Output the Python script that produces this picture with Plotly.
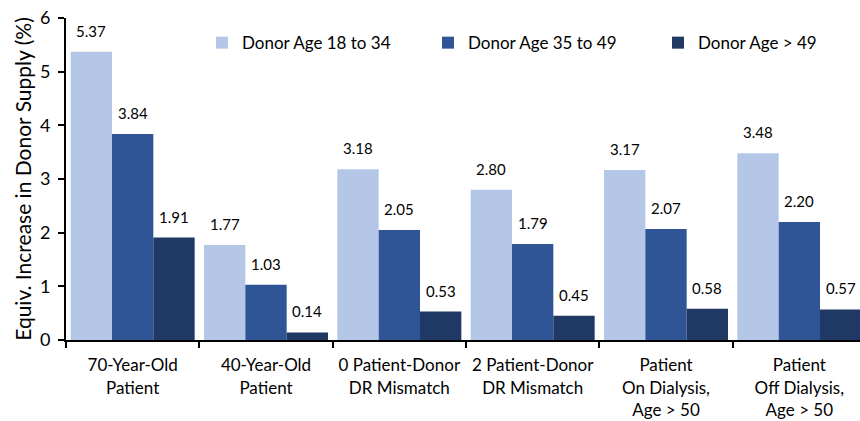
import plotly.graph_objects as go

categories = ["70-Year-Old<br>Patient", "40-Year-Old<br>Patient", "0 Patient-Donor<br>DR Mismatch",
              "2 Patient-Donor<br>DR Mismatch", "Patient<br>On Dialysis,<br>Age > 50",
              "Patient<br>Off Dialysis,<br>Age > 50"]
series_names = ["Donor Age 18 to 34", "Donor Age 35 to 49", "Donor Age > 49"]
age_18_34 = [5.37, 1.77, 3.18, 2.80, 3.17, 3.48]
age_35_49 = [3.84, 1.03, 2.05, 1.79, 2.07, 2.20]
age_gt_49 = [1.91, 0.14, 0.53, 0.45, 0.58, 0.57]
colors = ["#b4c7e7", "#2f5597", "#203864"]
legend_x_px = [202, 428, 658]
FONT = "Lato"
L, R, T, B = 66, 0, 18, 81
W, H = 860, 421

fig = go.Figure()
legend_ids = ["legend", "legend2", "legend3"]
series = [age_18_34, age_35_49, age_gt_49]
for name, vals, col, lid in zip(series_names, series, colors, legend_ids):
    fig.add_trace(go.Bar(
        x=categories, y=vals, name=name, marker=dict(color=col, line=dict(width=0)),
        legend=lid, showlegend=True,
    ))

# value labels above bars (positioned in data coordinates, shifted to each bar of the group)
cat_px = (W - L - R) / 5.955
bar_px = cat_px * (1 - 0.07) / 3
for k, vals in enumerate(series):
    for cat, v in zip(categories, vals):
        fig.add_annotation(x=cat, y=v, text=f"{v:.2f}", showarrow=False, xref="x", yref="y",
                           xshift=(k - 1) * bar_px, yshift=10, yanchor="bottom",
                           font=dict(family=FONT, size=15, color="black"))

layout_legends = {}
for lid, xp in zip(legend_ids, legend_x_px):
    layout_legends[lid] = dict(orientation="h", x=(xp - L) / (W - L - R), xref="paper", y=0.922,
                               xanchor="left", yanchor="middle", bgcolor="rgba(0,0,0,0)",
                               font=dict(family=FONT, size=17), itemwidth=30, visible=True)

fig.update_layout(
    width=W, height=H, barmode="group", bargap=0.07, bargroupgap=0,
    margin=dict(l=L, r=R, t=T, b=B, autoexpand=False),
    plot_bgcolor="white", paper_bgcolor="white", showlegend=True,
    font=dict(family=FONT, size=16, color="black"),
    **layout_legends,
)
fig.update_yaxes(range=[0, 6], dtick=1, showgrid=False, showline=True, linecolor="black",
                 linewidth=2, ticks="outside", ticklen=6, tickwidth=2, tickcolor="black",
                 tickfont=dict(size=18), zeroline=False, automargin=False, ticklabelstandoff=4,
                 title=dict(text="Equiv. Increase in Donor Supply (%)", font=dict(size=21), standoff=3))
fig.update_xaxes(range=[-0.5, 5.455], showline=True, linecolor="black", linewidth=2, ticks="outside",
                 tickson="boundaries", ticklen=6, tickwidth=2, tickcolor="black",
                 tickfont=dict(size=17), automargin=False, tickangle=0, ticklabelstandoff=9)

fig.write_html("out.html", config={"displayModeBar": False},
               post_script="document.body.style.margin='0';")
